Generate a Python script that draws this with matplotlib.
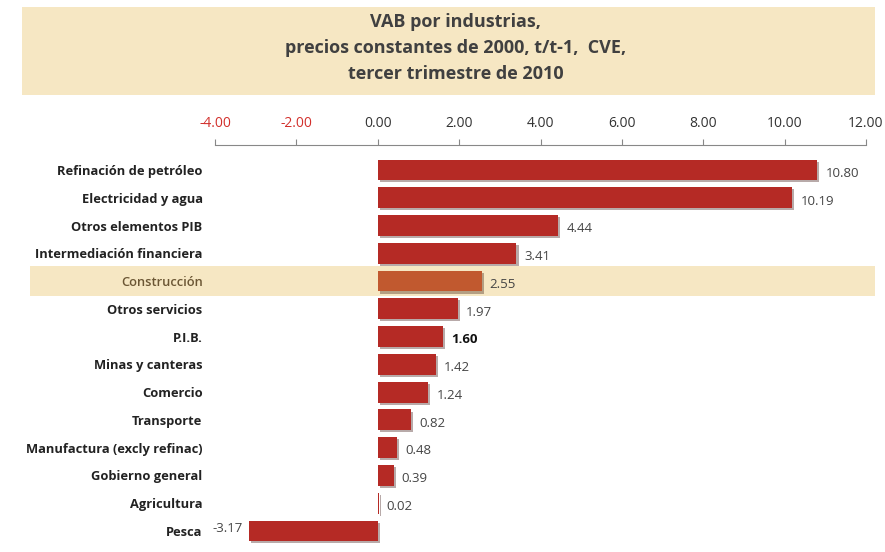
import matplotlib.pyplot as plt
from matplotlib.patches import Rectangle
import matplotlib.patheffects as pe

categories = ["Refinación de petróleo", "Electricidad y agua", "Otros elementos PIB",
              "Intermediación financiera", "Construcción", "Otros servicios", "P.I.B.",
              "Minas y canteras", "Comercio", "Transporte", "Manufactura (excly refinac)",
              "Gobierno general", "Agricultura", "Pesca"]
values = [10.80, 10.19, 4.44, 3.41, 2.55, 1.97, 1.60, 1.42, 1.24, 0.82, 0.48, 0.39, 0.02, -3.17]
ticks = [-4, -2, 0, 2, 4, 6, 8, 10, 12]
highlight = "Construcción"
bold_value = "P.I.B."

plt.rcParams['font.family'] = ['Open Sans', 'DejaVu Sans']

fig = plt.figure(figsize=(8.85, 5.52), dpi=100)
W, H = 885, 552

# title box
fig.patches.append(Rectangle((22 / W, 1 - 95 / H), 853 / W, 88 / H, transform=fig.transFigure,
                             facecolor='#F6E7C3', edgecolor='none', zorder=-2))
for txt, y in zip(["VAB por industrias,", "precios constantes de 2000, t/t-1,  CVE,",
                   "tercer trimestre de 2010"], [22, 48, 74]):
    fig.text(0.515, 1 - y / H, txt, ha='center', va='center', fontsize=13,
             fontweight='bold', color='#404040')

ax = fig.add_axes([215 / W, 0.008, 651 / W, 1 - 145 / H - 0.008])
ax.set_facecolor('none')
pos = list(range(len(categories)))
colors = ['#C1592F' if c == highlight else '#B52A25' for c in categories]
bars = ax.barh(pos, values, height=0.75, color=colors, zorder=3,
               path_effects=[pe.SimplePatchShadow(offset=(1.5, -1.5), alpha=0.35), pe.Normal()])

# highlight band behind the Construcción row
i = categories.index(highlight)
y_px = 170 + i * 27.77
fig.patches.append(Rectangle((30 / W, 1 - (y_px + 15) / H), 845 / W, 30 / H,
                             transform=fig.transFigure, facecolor='#F6E7C3',
                             edgecolor='none', zorder=-2))

ax.set_xlim(-4, 12)
ax.set_ylim(13.6, -0.9)
ax.xaxis.tick_top()
ax.set_xticks(ticks)
ax.set_xticklabels([f"{t:.2f}" for t in ticks], fontsize=10)
for lab, t in zip(ax.get_xticklabels(), ticks):
    lab.set_color('#D2302C' if t < 0 else '#333333')
ax.tick_params(axis='x', direction='out', length=4, color='#888888', pad=6)
ax.set_yticks(pos)
ax.set_yticklabels(categories, fontsize=9.3, fontweight='bold', color='#222222')
for lab, c in zip(ax.get_yticklabels(), categories):
    if c == highlight:
        lab.set_color('#6B5634')
        lab.set_fontweight('semibold')
ax.tick_params(axis='y', length=0, pad=9)
for s in ['right', 'bottom', 'left']:
    ax.spines[s].set_visible(False)
ax.spines['top'].set_color('#888888')

for p, v, c in zip(pos, values, categories):
    if v >= 0:
        ax.text(v + 0.2, p + 0.12, f"{v:.2f}", ha='left', va='center', fontsize=9.5,
                color='#111111' if c == bold_value else '#444444',
                fontweight='bold' if c == bold_value else 'normal')
    else:
        ax.text(v - 0.15, p - 0.1, f"{v:.2f}", ha='right', va='center', fontsize=9.5, color='#444444')

fig.savefig("out.png", dpi=100)
